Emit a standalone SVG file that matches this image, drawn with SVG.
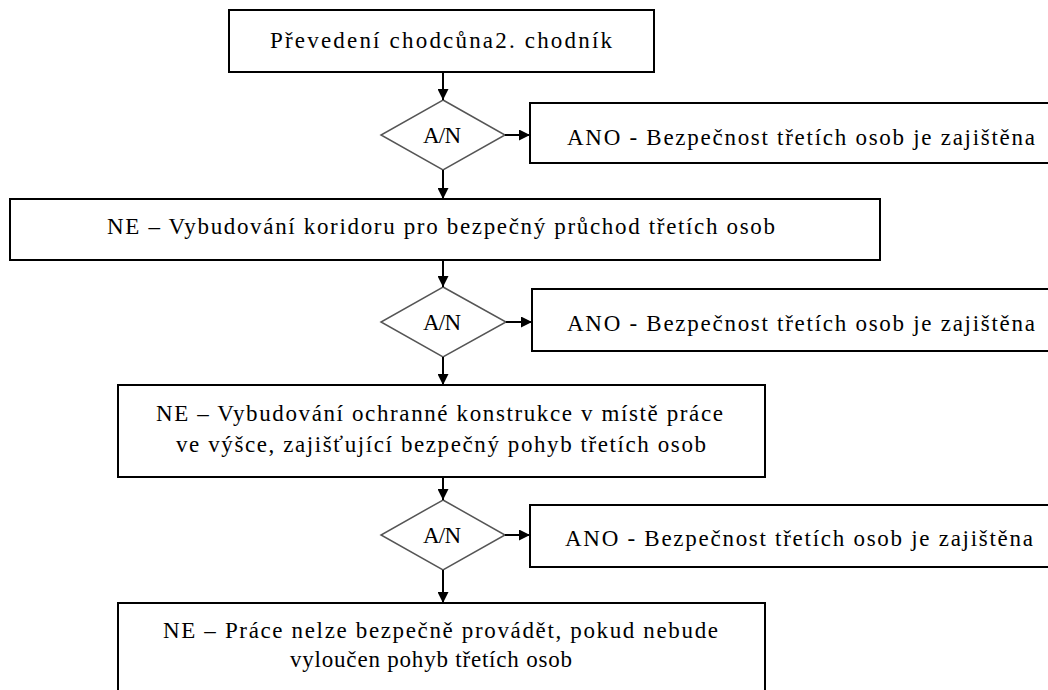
<svg xmlns="http://www.w3.org/2000/svg" width="1048" height="690" viewBox="0 0 1048 690">
<defs>
<marker id="ah" viewBox="0 0 10 10" refX="10" refY="5" markerWidth="11" markerHeight="11" markerUnits="userSpaceOnUse" orient="auto">
<path d="M0,0 L10,5 L0,10 Z" fill="#000"/>
</marker>
<style>
.box{fill:#fff;stroke:#000;stroke-width:2}
.dia{fill:#fff;stroke:#555;stroke-width:1.5}
.t{font-family:"Liberation Serif","Times New Roman",serif;font-size:23px;fill:#000}
.c{stroke:#000;stroke-width:2;fill:none}
</style>
</defs>
<rect width="1048" height="690" fill="#fff"/>
<g id="n1"><rect class="box" x="229" y="10" width="425" height="62"/><text class="t" x="270" y="48" textLength="342" lengthAdjust="spacing">Převedení chodcůna2. chodník</text></g>
<g id="d1"><polygon class="dia" points="443,100 505,135 443,170 381,135"/><text class="t" x="423" y="143" textLength="38" lengthAdjust="spacing">A/N</text></g>
<g id="a1"><rect class="box" x="530" y="103" width="524" height="60"/><text class="t" x="567" y="145" textLength="468" lengthAdjust="spacing">ANO - Bezpečnost třetích osob je zajištěna</text></g>
<g id="n2"><rect class="box" x="10" y="199" width="870" height="61"/><text class="t" x="107" y="234" textLength="668" lengthAdjust="spacing">NE – Vybudování koridoru  pro bezpečný průchod třetích osob</text></g>
<g id="d2"><polygon class="dia" points="443,287 506,322 443,357 381,322"/><text class="t" x="423" y="330" textLength="38" lengthAdjust="spacing">A/N</text></g>
<g id="a2"><rect class="box" x="532" y="289" width="522" height="62"/><text class="t" x="567" y="331" textLength="468" lengthAdjust="spacing">ANO - Bezpečnost třetích osob je zajištěna</text></g>
<g id="n3"><rect class="box" x="118" y="385" width="647" height="92"/><text class="t" x="156" y="421" textLength="567" lengthAdjust="spacing">NE – Vybudování ochranné konstrukce v místě  práce</text><text class="t" x="176" y="452" textLength="530" lengthAdjust="spacing">ve výšce, zajišťující  bezpečný pohyb třetích osob</text></g>
<g id="d3"><polygon class="dia" points="443,500 505,535 443,570 381,535"/><text class="t" x="423" y="543" textLength="38" lengthAdjust="spacing">A/N</text></g>
<g id="a3"><rect class="box" x="530" y="505" width="524" height="62"/><text class="t" x="565" y="546" textLength="468" lengthAdjust="spacing">ANO - Bezpečnost třetích osob je zajištěna</text></g>
<g id="n4"><rect class="box" x="118" y="603" width="647" height="100"/><text class="t" x="163" y="638" textLength="555" lengthAdjust="spacing">NE – Práce nelze  bezpečně provádět, pokud nebude</text><text class="t" x="290" y="667" textLength="282" lengthAdjust="spacing">vyloučen pohyb třetích osob</text></g>
<g id="connectors">
<line class="c" x1="443" y1="72" x2="443" y2="100" marker-end="url(#ah)"/>
<line class="c" x1="505" y1="135" x2="530" y2="135" marker-end="url(#ah)"/>
<line class="c" x1="443" y1="170" x2="443" y2="199" marker-end="url(#ah)"/>
<line class="c" x1="443" y1="260" x2="443" y2="287" marker-end="url(#ah)"/>
<line class="c" x1="506" y1="322" x2="532" y2="322" marker-end="url(#ah)"/>
<line class="c" x1="443" y1="357" x2="443" y2="385" marker-end="url(#ah)"/>
<line class="c" x1="443" y1="477" x2="443" y2="500" marker-end="url(#ah)"/>
<line class="c" x1="505" y1="535" x2="530" y2="535" marker-end="url(#ah)"/>
<line class="c" x1="443" y1="570" x2="443" y2="603" marker-end="url(#ah)"/>
</g>
</svg>
